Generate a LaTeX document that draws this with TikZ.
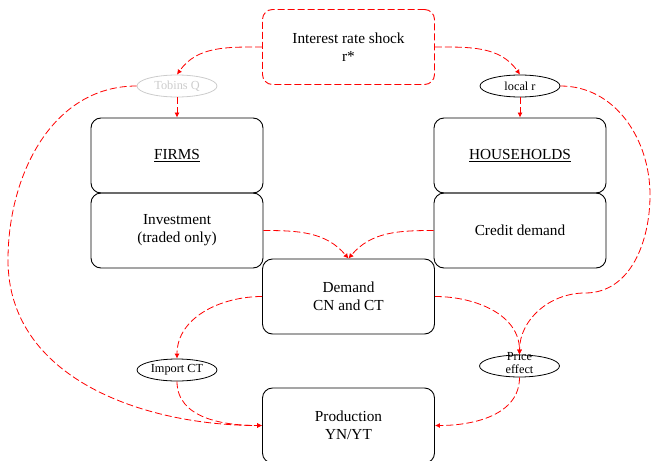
\documentclass[tikz,border=0pt]{standalone}
\usepackage{fontspec}
\setmainfont{Liberation Serif}
\usetikzlibrary{arrows.meta,shapes.geometric}
\begin{document}
\begin{tikzpicture}[x=1pt,y=1pt,
  box/.style={draw, rounded corners=10pt, minimum width=172pt, minimum height=75pt, line width=0.9pt, align=center, font=\fontsize{15.3}{18}\selectfont, inner sep=0pt},
  oval/.style={draw, ellipse, minimum width=80pt, minimum height=22pt, inner sep=0pt, line width=0.8pt, font=\fontsize{12.3}{12}\selectfont, align=center},
  link/.style={red, dash pattern=on 7pt off 3pt, line width=0.8pt, -{Latex[length=5pt,width=5pt]}}]
\useasboundingbox (0,0) rectangle (652,-460);
\clip (0,0) rectangle (652,-460);
\node[box, draw=red, dash pattern=on 7pt off 3pt] (shock) at (348.5,-47) {Interest rate shock\\r*};
\node[oval, draw=gray!40, text=gray!40] (tq) at (177,-86) {Tobins Q};
\node[oval] (lr) at (520,-86) {local r};
\node[box] (firms) at (177,-155.5) {\underline{FIRMS}};
\node[box] (inv) at (177,-230.5) {Investment\\(traded only)};
\node[box] (hh) at (520,-155.5) {\underline{HOUSEHOLDS}};
\node[box] (cred) at (520,-230.5) {Credit demand};
\node[box] (dem) at (348.5,-296.5) {Demand\\CN and CT};
\node[oval] (imp) at (177,-370) {Import CT};
\node[oval] (price) at (519.5,-366) {\raisebox{-3pt}{\smash{\begin{tabular}{@{}c@{}}Price\\effect\end{tabular}}}};
\node[box] (prod) at (348.5,-425.5) {Production\\YN/YT};
\coordinate (qa) at (8,-260);
\coordinate (ra) at (650,-195);
\coordinate (rb) at (585,-293);
\draw[link] (shock.west) to[out=180,in=55] (tq.north);
\draw[link] (shock.east) to[out=0,in=125] (lr.north);
\draw[link] (tq.south) -- (firms.north);
\draw[link] (lr.south) -- (hh.north);
\draw[link] (tq.west) to[out=180,in=90] (qa) to[out=270,in=180] (prod.west);
\draw[link] (lr.east) to[out=0,in=90] (ra) to[out=270,in=0] (rb) to[out=180,in=90] (price.north);
\draw[link] (inv.east) to[out=0,in=130] (dem.north);
\draw[link] (cred.west) to[out=180,in=50] (dem.north);
\draw[link] (dem.west) to[out=180,in=90] (imp.north);
\draw[link] (dem.east) to[out=0,in=90] (price.north);
\draw[link] (imp.south) to[out=270,in=180] (prod.west);
\draw[link] (price.south) to[out=270,in=0] (prod.east);
\end{tikzpicture}
\end{document}
